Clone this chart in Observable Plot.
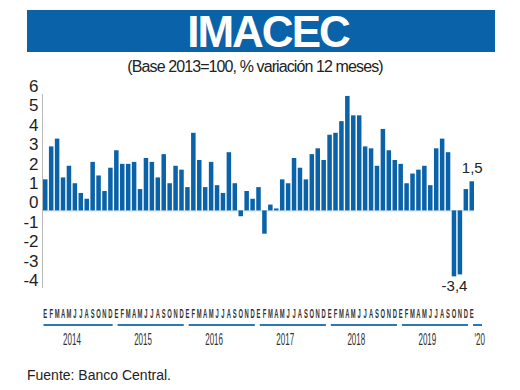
<!DOCTYPE html>
<html><head><meta charset="utf-8">
<script src="https://cdn.jsdelivr.net/npm/d3@7"></script>
<script src="https://cdn.jsdelivr.net/npm/@observablehq/plot@0.6"></script>
<style>
body{margin:0;background:#fff;width:520px;height:390px;overflow:hidden;font-family:"Liberation Sans",Arial,sans-serif;color:#222}
#banner{margin:10px 0 0 27px;width:468px;height:42px;background:#0a62a9;color:#fff;text-align:center;font-weight:bold;font-size:44px;line-height:43px;letter-spacing:-2px;box-sizing:border-box;padding-left:14px}
#sub{margin-top:5px;height:18px;line-height:20px;font-size:16px;letter-spacing:-0.9px;text-align:center;padding-right:10px;color:#222}
#chart svg{display:block}
#cap{margin:12px 0 0 27px;font-size:14px;line-height:16px;color:#222}
</style></head>
<body>
<div id="banner">IMACEC</div>
<div id="sub">(Base 2013=100, % variación 12 meses)</div>
<div id="chart"></div>
<div id="cap">Fuente: Banco Central.</div>
<script>
const years = ["2014", "2015", "2016", "2017", "2018", "2019", "'20"];
const monthLetters = ["E", "F", "M", "A", "M", "J", "J", "A", "S", "O", "N", "D"];
const values = [
  1.6, 3.3, 3.7, 1.7, 2.3, 1.4, 0.9, 0.6, 2.5, 1.8, 1.0, 2.2,
  3.1, 2.4, 2.4, 2.5, 1.1, 2.7, 2.5, 1.7, 2.9, 1.4, 2.3, 2.1,
  1.2, 4.0, 2.6, 1.2, 2.5, 1.3, 0.9, 3.0, 1.4, -0.3, 1.0, 0.6,
  1.2, -1.2, 0.3, 0.1, 1.6, 1.4, 2.7, 2.2, 1.6, 2.9, 3.2, 2.6,
  3.9, 4.0, 4.6, 5.9, 4.9, 4.9, 3.3, 3.2, 2.3, 4.2, 3.1, 2.6,
  2.4, 1.4, 1.9, 2.1, 2.3, 1.3, 3.2, 3.7, 3.0, -3.4, -3.3, 1.1,
  1.5
];
const yTicks = [-4, -3, -2, -1, 0, 1, 2, 3, 4, 5, 6];
const annotated = [69, 72];

const rows = values.map((v, i) => ({i, v, month: monthLetters[i % 12], year: years[Math.floor(i / 12)]}));
const nMonths = values.length;
const fmt = v => String(v).replace(".", ",");
const blue = "#0a62a9";

function xAxisMark(index, scales, channels, dim) {
  const x = scales.x, y = scales.y;
  const bw = x.bandwidth();
  const g = d3.create("svg:g");
  const bottom = dim.height - dim.marginBottom;
  // y axis line
  g.append("line").attr("x1", dim.marginLeft - 0.5).attr("x2", dim.marginLeft - 0.5)
    .attr("y1", y(6)).attr("y2", y(-4)).attr("stroke", "#b8b8b8").attr("stroke-width", 1);
  // month letters
  g.selectAll("text.m").data(rows).join("text").attr("class", "m")
    .attr("transform", d => `translate(${x(d.i) + bw / 2},${bottom + 25}) scale(0.45,1)`)
    .attr("text-anchor", "middle").attr("dy", "0.36em")
    .attr("font-family", "Liberation Sans, Arial, sans-serif").attr("font-weight", "bold")
    .attr("font-size", 13).attr("fill", "#333").text(d => d.month);
  // year lines and labels
  years.forEach((yr, k) => {
    const s = k * 12;
    const e = Math.min(s + 11, nMonths - 1);
    const partial = e - s < 11;
    const x1 = x(s) + (k === 0 ? 0.5 : 3.5);
    const x2 = partial ? x(s) + 12.5 : x(e) + bw;
    g.append("line").attr("x1", x1).attr("x2", x2).attr("y1", bottom + 37).attr("y2", bottom + 37)
      .attr("stroke", "#2b78b6").attr("stroke-width", 2);
    const cx = partial ? x(s) + bw / 2 + 8 : x(s + 4) + bw / 2 + 3;
    g.append("text").attr("transform", `translate(${cx},${bottom + 51}) scale(0.5,1)`)
      .attr("text-anchor", "middle").attr("dy", "0.36em")
      .attr("font-family", "Liberation Sans, Arial, sans-serif").attr("font-size", 16)
      .attr("fill", "#333").text(yr);
  });
  return g.node();
}

const chart = Plot.plot({
  width: 520, height: 280,
  marginLeft: 43, marginRight: 46, marginTop: 19, marginBottom: 67,
  style: {background: "transparent", fontFamily: "Liberation Sans, Arial, sans-serif", color: "#222"},
  x: {type: "band", domain: d3.range(nMonths), paddingInner: 0.24, paddingOuter: 0, align: 0, axis: null},
  y: {domain: [-4, 6], axis: null},
  marks: [
    Plot.ruleY([0], {stroke: "#bcd5ea"}),
    Plot.barY(rows, {x: "i", y: "v", fill: blue}),
    Plot.text(yTicks, {y: d => d, text: d => String(d), frameAnchor: "left", textAnchor: "end", dx: -5, dy: -8, fontSize: 17, fill: "#1e1e1e"}),
    Plot.text(rows.filter(d => annotated.includes(d.i) && d.v > 0), {x: "i", y: "v", text: d => fmt(d.v), dy: -14, fontSize: 15, fill: "#222"}),
    Plot.text(rows.filter(d => annotated.includes(d.i) && d.v < 0), {x: "i", y: "v", text: d => fmt(d.v), dy: 9, fontSize: 15, fill: "#222"}),
    xAxisMark
  ]
});
document.getElementById("chart").appendChild(chart);
</script>
</body></html>
